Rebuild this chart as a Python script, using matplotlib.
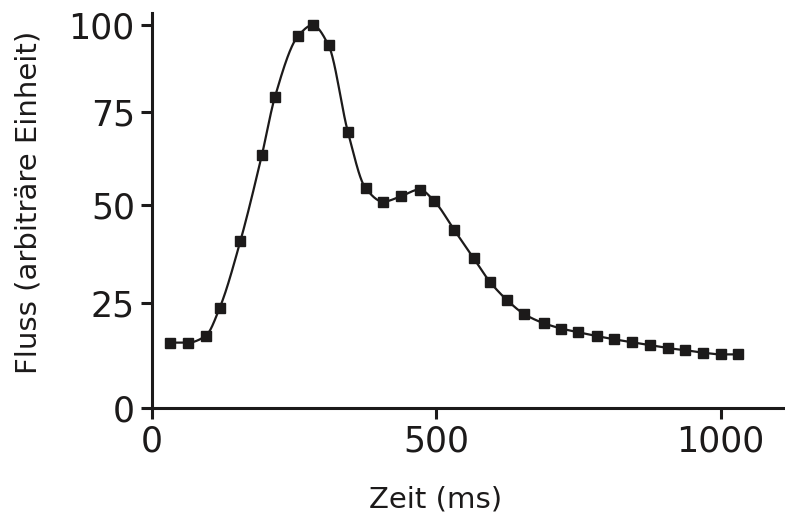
import numpy as np
import matplotlib
matplotlib.use('Agg')
import matplotlib.pyplot as plt

# values
zeit = [32, 64, 95, 120, 156, 194, 217, 258, 283, 311, 345, 376, 407, 438,
        471, 497, 532, 566, 595, 625, 655, 689, 720, 750, 782, 813, 844,
        876, 907, 938, 969, 1000, 1030]
fluss = [15.4, 15.4, 17.0, 23.9, 40.5, 63.3, 79.4, 96.9, 100.0, 94.1, 69.6,
         54.4, 50.8, 52.2, 54.0, 50.9, 43.4, 36.2, 30.2, 25.7, 22.3, 20.1,
         18.8, 17.9, 17.0, 16.2, 15.5, 14.8, 14.1, 13.6, 13.0, 12.6, 12.6]
x_ticks = [0, 500, 1000]
y_ticks = [0, 25, 50, 75, 100]

INK = '#1c1a1a'
C = 350.0  # the printed y axis is slightly compressed towards the top


def fwd(y):
    return np.log1p(np.asarray(y, dtype=float) / C)


def inv(v):
    return C * np.expm1(np.asarray(v, dtype=float))


def pchip(x, y, n=1000):
    # monotone cubic (Fritsch-Carlson), just for drawing the smooth line
    x = np.asarray(x, float)
    y = np.asarray(y, float)
    h = np.diff(x)
    delta = np.diff(y) / h
    d = np.zeros_like(y)
    for i in range(1, len(x) - 1):
        if delta[i - 1] * delta[i] > 0:
            w1 = 2 * h[i] + h[i - 1]
            w2 = h[i] + 2 * h[i - 1]
            d[i] = (w1 + w2) / (w1 / delta[i - 1] + w2 / delta[i])
    d[0] = delta[0]
    d[-1] = delta[-1]
    xs = np.linspace(x[0], x[-1], n)
    idx = np.clip(np.searchsorted(x, xs) - 1, 0, len(x) - 2)
    hh = h[idx]
    t = (xs - x[idx]) / hh
    h00 = 2 * t ** 3 - 3 * t ** 2 + 1
    h10 = t ** 3 - 2 * t ** 2 + t
    h01 = -2 * t ** 3 + 3 * t ** 2
    h11 = t ** 3 - t ** 2
    ys = h00 * y[idx] + h10 * hh * d[idx] + h01 * y[idx + 1] + h11 * hh * d[idx + 1]
    return xs, ys


plt.rcParams['font.family'] = ['DejaVu Sans']

fig = plt.figure(figsize=(7.85, 5.22), dpi=100)
ax = fig.add_axes([151.5 / 785, (522 - 408.3) / 522, 1 - 151.5 / 785, (408.3 - 13) / 522])

xs, ys = pchip(zeit, fluss)
ax.plot(xs, ys, color=INK, linewidth=1.6)
ax.plot(zeit, fluss, linestyle='none', marker='s', markersize=7.5, color=INK)

ax.set_yscale('function', functions=(fwd, inv))
ax.set_xlim(0, 1113)
ax.set_ylim(0, 103.6)
ax.set_xticks(x_ticks)
ax.set_yticks(y_ticks)
ax.minorticks_off()

for side in ['top', 'right']:
    ax.spines[side].set_visible(False)
for side in ['left', 'bottom']:
    ax.spines[side].set_linewidth(2.2)
    ax.spines[side].set_color(INK)
ax.tick_params(length=8, width=2.2, color=INK, labelcolor=INK, labelsize=25, pad=4)

ax.set_xlabel('Zeit (ms)', fontsize=21, color=INK)
ax.set_ylabel('Fluss (arbiträre Einheit)', fontsize=21, color=INK)
ax.xaxis.set_label_coords(0.449, -0.195)
ax.yaxis.set_label_coords(-0.172, 0.521)

fig.savefig('out.png', dpi=100)
